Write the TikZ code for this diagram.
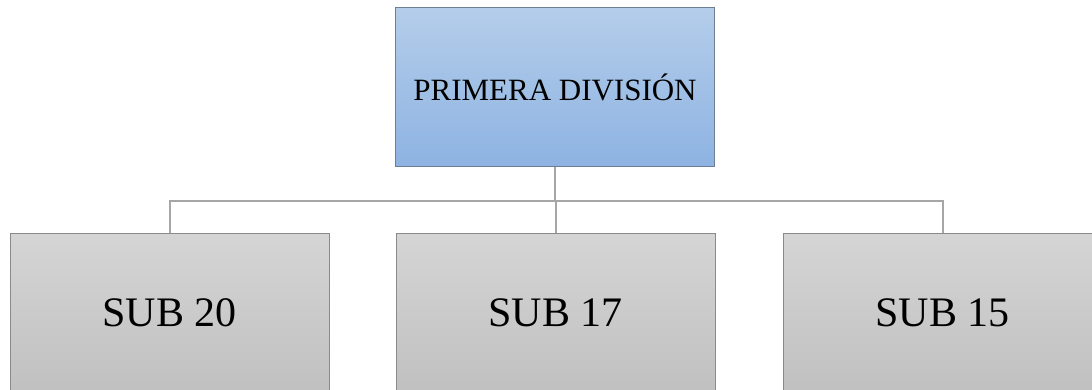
\documentclass[tikz,border=0pt]{standalone}
\usepackage{fontspec}
\setmainfont{Liberation Serif}
\definecolor{bluetop}{HTML}{B4CDEA}
\definecolor{bluebot}{HTML}{8EB3E2}
\definecolor{blueedge}{HTML}{6F7F93}
\definecolor{greytop}{HTML}{D5D5D5}
\definecolor{greybot}{HTML}{C0C0C0}
\definecolor{greyedge}{HTML}{8A8A8A}
\definecolor{connc}{HTML}{A6A6A6}
\tikzset{
  headbox/.style={draw=blueedge, line width=1pt, shading=axis, top color=bluetop, bottom color=bluebot,
    minimum width=319pt, minimum height=159pt, inner sep=0pt, font=\fontsize{31}{31}\selectfont},
  subbox/.style={draw=greyedge, line width=1pt, shading=axis, top color=greytop, bottom color=greybot,
    minimum width=319pt, minimum height=160pt, inner sep=0pt, font=\fontsize{42}{42}\selectfont},
  conn/.style={draw=connc, line width=2pt}
}
\begin{document}
\begin{tikzpicture}[x=1pt,y=-1pt]
\useasboundingbox (0,0) rectangle (1092,389);
\clip (0,0) rectangle (1092,389);
\fill[white] (0,0) rectangle (1092,389);
\coordinate (bus) at (0,201);
\node[headbox] (top) at (555,87) {PRIMERA DIVISIÓN};
\node[subbox] (s20) at (169.5,313) {SUB 20};
\node[subbox] (s17) at (555.5,313) {SUB 17};
\node[subbox] (s15) at (942.5,313) {SUB 15};
\draw[conn] (top.south) -- (top.south |- bus);
\draw[conn] (s20.north) |- (s15.north |- bus) -- (s15.north);
\draw[conn] (s17.north) -- (s17.north |- bus);
\end{tikzpicture}
\end{document}
